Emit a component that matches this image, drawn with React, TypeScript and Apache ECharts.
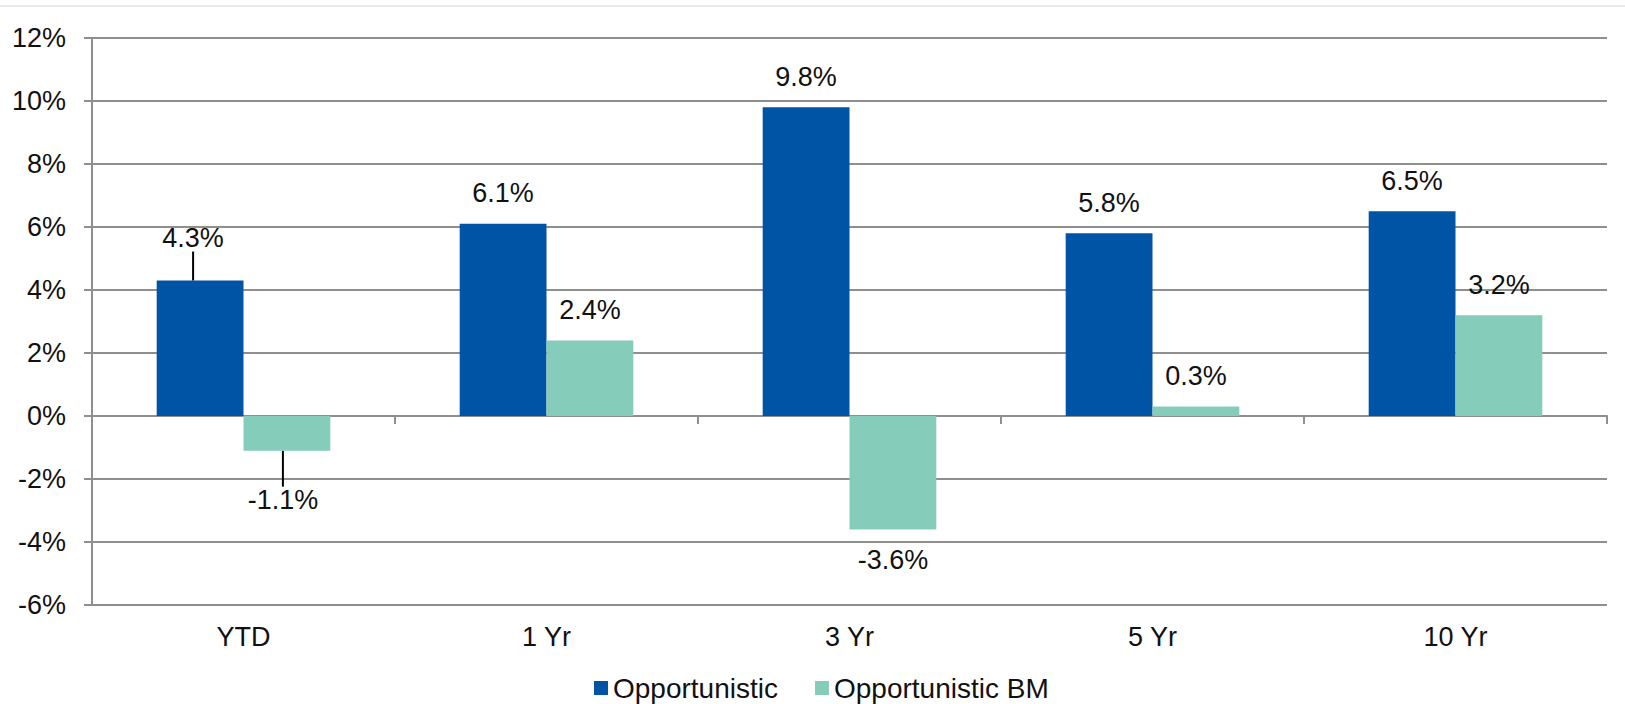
import React, { useEffect, useRef } from "react";
import * as echarts from "echarts";

const categories = ["YTD", "1 Yr", "3 Yr", "5 Yr", "10 Yr"];
const opportunistic = [4.3, 6.1, 9.8, 5.8, 6.5];
const opportunisticBM = [-1.1, 2.4, -3.6, 0.3, 3.2];
const seriesNames = ["Opportunistic", "Opportunistic BM"];
const colors = ["#0054A5", "#85CCBB"];

const FONT = "'Liberation Sans', Arial, sans-serif";
const TEXT = "#111111";
const GRID = "#8f8f8f";

export default function App() {
  const ref = useRef<HTMLDivElement>(null);
  useEffect(() => {
    if (!ref.current) return;
    const chart = echarts.init(ref.current, undefined, { renderer: "svg" });
    const labelBase = {
      show: true,
      position: "top" as const,
      distance: 17,
      fontFamily: FONT,
      fontSize: 27,
      color: TEXT,
      formatter: (p: any) => `${Number(p.value).toFixed(1)}%`,
    };
    const mk = (arr: number[]) =>
      arr.map((v, i) => ({
        value: v,
        label: { position: v < 0 ? "bottom" : "top" },
        labelLine: { show: i === 0, lineStyle: { color: "#000", width: 2 } },
      }));
    chart.setOption({
      animation: false,
      graphic: [
        {
          type: "line",
          shape: { x1: 0, y1: 6, x2: 1625, y2: 6 },
          style: { stroke: "#e9e9e9", lineWidth: 2 },
        },
      ],
      grid: { left: 92, right: 18, top: 38, bottom: 99, containLabel: false },
      legend: {
        data: seriesNames,
        left: 589,
        top: 669,
        itemWidth: 14,
        itemHeight: 14,
        itemGap: 37,
        icon: "rect",
        textStyle: { fontFamily: FONT, fontSize: 28, color: TEXT },
      },
      xAxis: [
        {
          type: "category",
          data: categories,
          axisLine: { onZero: true, lineStyle: { color: GRID, width: 2 } },
          axisTick: { show: true, length: 8, lineStyle: { color: GRID, width: 2 } },
          axisLabel: { show: false },
        },
        {
          type: "category",
          data: categories,
          position: "bottom",
          axisLine: { show: false, onZero: false },
          axisTick: { show: false },
          axisLabel: { fontFamily: FONT, fontSize: 27, color: TEXT, margin: 18 },
        },
      ],
      yAxis: {
        type: "value",
        min: -6,
        max: 12,
        interval: 2,
        axisLine: { show: true, lineStyle: { color: GRID, width: 2 } },
        axisTick: { show: true, length: 8, lineStyle: { color: GRID, width: 2 } },
        axisLabel: {
          formatter: "{value}%",
          fontFamily: FONT,
          fontSize: 27,
          color: TEXT,
          margin: 26,
        },
        splitLine: { lineStyle: { color: GRID, width: 2 } },
      },
      series: [
        {
          name: seriesNames[0],
          type: "bar",
          xAxisIndex: 0,
          data: mk(opportunistic),
          itemStyle: { color: colors[0] },
          barGap: "0%",
          barCategoryGap: "42.7%",
          label: labelBase,
          labelLayout: (p: any) =>
            p.dataIndex === 0 ? { dx: -7, dy: -12 } : {},
        },
        {
          name: seriesNames[1],
          type: "bar",
          xAxisIndex: 0,
          data: mk(opportunisticBM),
          itemStyle: { color: colors[1] },
          barGap: "0%",
          barCategoryGap: "42.7%",
          label: labelBase,
          labelLayout: (p: any) =>
            p.dataIndex === 0 ? { dx: -4, dy: 19 } : {},
        },
      ],
    });
    return () => chart.dispose();
  }, []);
  return (
    <div
      ref={ref}
      style={{ position: "fixed", left: 0, top: 0, width: 1625, height: 704, background: "#fff" }}
    />
  );
}
